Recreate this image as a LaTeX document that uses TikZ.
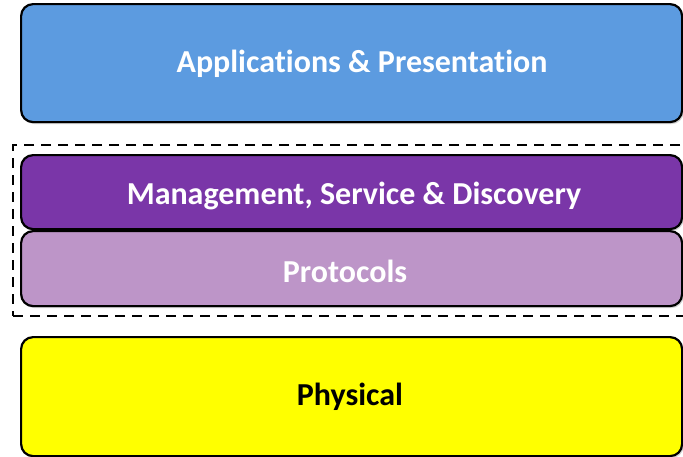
\documentclass[tikz,border=0pt]{standalone}
\usepackage{fontspec}
\setmainfont{Carlito}[Ligatures={NoCommon}]
\usetikzlibrary{shadows}
\definecolor{appblue}{HTML}{5C9BE0}
\definecolor{mgmtpurple}{HTML}{7A36A8}
\definecolor{protlilac}{HTML}{BD95C8}
\definecolor{physyellow}{HTML}{FFFF00}
\tikzset{
  layer/.style={draw=black, line width=2.2pt, rounded corners=12pt, minimum width=661pt, inner sep=0pt,
    drop shadow={opacity=0.35, shadow xshift=1.5pt, shadow yshift=-2pt}},
  lbl/.style={font=\bfseries\fontsize{32}{36}\selectfont, inner sep=0pt},
}
\begin{document}
\begin{tikzpicture}[x=1pt,y=-1pt]
\useasboundingbox (0,0) rectangle (683,456);
\fill[white] (0,0) rectangle (683,456);
\node[draw=black, dashed, dash pattern=on 10pt off 7pt, line width=2.4pt, minimum width=690pt, minimum height=171pt, inner sep=0pt, anchor=north west] (group) at (12,144) {};
\node[layer, fill=appblue, minimum height=118pt, anchor=north west] (app) at (20,3) {};
\node[layer, fill=mgmtpurple, minimum height=74pt, anchor=north west] (mgmt) at (20,154) {};
\node[layer, fill=protlilac, minimum height=75pt, anchor=north west] (prot) at (20,230) {};
\node[layer, fill=physyellow, minimum height=119pt, anchor=north west] (phys) at (20,336) {};
\node[lbl, text=white] (applbl) at (362,64) {Applicat\kern0pt ions \& Presentat\kern0pt ion};
\node[lbl, text=white] (mgmtlbl) at (354,196) {Management, Service \& Discovery};
\node[lbl, text=white] (protlbl) at (345,271) {Protocols};
\node[lbl, text=black] (physlbl) at (350,397) {Physical};
\end{tikzpicture}
\end{document}
